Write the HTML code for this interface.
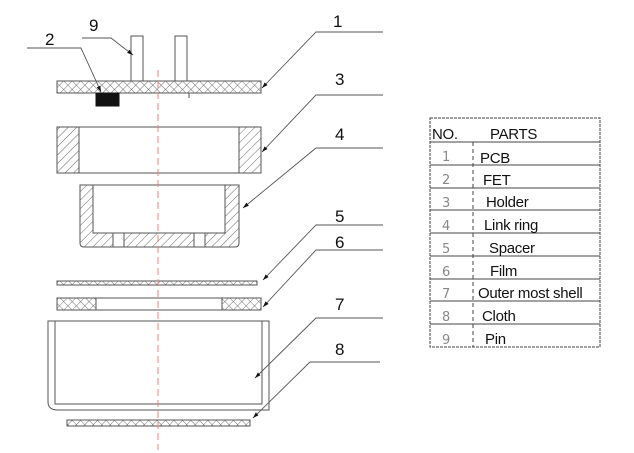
<!DOCTYPE html>
<html><head><style>body{margin:0;background:#fff}svg{display:block}</style></head><body>
<svg width="634" height="453" viewBox="0 0 634 453" xmlns="http://www.w3.org/2000/svg" font-family="Liberation Sans, sans-serif">
<defs>
<pattern id="h" width="6" height="6" patternUnits="userSpaceOnUse" patternTransform="rotate(45)"><line x1="0" y1="0" x2="0" y2="6" stroke="#555" stroke-width="0.9"/></pattern>
<pattern id="x" width="6" height="6" patternUnits="userSpaceOnUse" patternTransform="rotate(45)"><line x1="0" y1="0" x2="0" y2="6" stroke="#555" stroke-width="0.8"/><line x1="0" y1="0" x2="6" y2="0" stroke="#555" stroke-width="0.8"/></pattern>
<marker id="a" markerWidth="6" markerHeight="4" refX="6" refY="2" orient="auto" markerUnits="userSpaceOnUse"><path d="M0 0 L6 2 L0 4 Z" fill="#111"/></marker>
</defs>
<g stroke="#555" stroke-width="1" fill="none">
<rect x="131" y="36" width="12" height="45" fill="#fff"/>
<rect x="175" y="36" width="12" height="45" fill="#fff"/>
<rect x="57" y="81" width="204" height="12" fill="url(#x)"/>
<line x1="189" y1="93" x2="189" y2="98"/>
<rect x="96" y="93" width="23" height="13" fill="#111" stroke="#111"/>
<rect x="57" y="127" width="204" height="46" fill="#fff"/>
<rect x="57" y="127" width="22" height="46" fill="url(#h)"/>
<rect x="239" y="127" width="22" height="46" fill="url(#h)"/>
<path d="M80 185 H239 V243 Q239 247 235 247 H84 Q80 247 80 243 Z" fill="url(#h)"/>
<rect x="93" y="185" width="132" height="48" fill="#fff"/>
<rect x="113" y="233" width="11" height="14" fill="#fff"/>
<rect x="194" y="233" width="11" height="14" fill="#fff"/>
<rect x="57" y="281" width="200" height="4" fill="url(#x)"/>
<rect x="57" y="298" width="204" height="12" fill="#fff"/>
<rect x="57" y="298" width="39" height="12" fill="url(#x)"/>
<rect x="222" y="298" width="39" height="12" fill="url(#x)"/>
<path d="M48 321 V402 Q48 410 58 410 H269 V321 Z"/>
<path d="M55 321 V404 H262 V321"/>
<line x1="48" y1="321" x2="55" y2="321"/><line x1="262" y1="321" x2="269" y2="321"/>
<rect x="67" y="420" width="183" height="6" fill="url(#x)"/>
</g>
<line x1="158" y1="70" x2="158" y2="450" stroke="#f08080" stroke-width="1" stroke-dasharray="7,4"/>
<g stroke="#555" stroke-width="0.9" fill="none" marker-end="url(#a)">
<polyline points="82,38 111,38 133,55"/>
<polyline points="27,48 81,48 101,92"/>
<polyline points="383,32 316,32 262,88"/>
<polyline points="383,95 316,95 262,152"/>
<polyline points="383,148 316,148 243,208"/>
<polyline points="383,225 316,225 263,280"/>
<polyline points="383,250 316,250 263,307"/>
<polyline points="383,318 316,318 255,378"/>
<polyline points="380,362 310,362 253,418"/>
</g>
<g font-size="17" fill="#111">
<text x="89" y="31">9</text><text x="45" y="45">2</text>
<text x="333" y="27">1</text><text x="335" y="85">3</text><text x="335" y="140">4</text>
<text x="335" y="222">5</text><text x="335" y="248">6</text><text x="335" y="310">7</text><text x="335" y="355">8</text>
</g>
<g stroke="#444" stroke-width="1" fill="none">
<rect x="430" y="118" width="170" height="229" stroke-dasharray="3,1"/>
<line x1="430" y1="142" x2="600" y2="142"/>
<line x1="473" y1="142" x2="473" y2="347" stroke-dasharray="4,3"/>
<line x1="430" y1="165" x2="600" y2="165"/><line x1="430" y1="188" x2="600" y2="188"/>
<line x1="430" y1="210" x2="600" y2="210"/><line x1="430" y1="233" x2="600" y2="233"/>
<line x1="430" y1="256" x2="600" y2="256"/><line x1="430" y1="279" x2="600" y2="279"/>
<line x1="430" y1="301" x2="600" y2="301"/><line x1="430" y1="324" x2="600" y2="324"/>
</g>
<g font-size="15" fill="#111" letter-spacing="-0.3">
<text x="432" y="139">NO.</text><text x="490" y="139">PARTS</text>
<text x="480" y="163">PCB</text><text x="483" y="185">FET</text><text x="486" y="207">Holder</text>
<text x="484" y="230">Link ring</text><text x="489" y="253">Spacer</text><text x="490" y="276">Film</text>
<text x="478" y="298">Outer most shell</text><text x="482" y="321">Cloth</text><text x="485" y="344">Pin</text>
</g>
<g font-size="13" fill="#888" font-family="DejaVu Sans, sans-serif">
<text x="442" y="161">1</text><text x="442" y="184">2</text><text x="442" y="207">3</text>
<text x="442" y="230">4</text><text x="442" y="253">5</text><text x="442" y="276">6</text>
<text x="442" y="298">7</text><text x="442" y="321">8</text><text x="442" y="344">9</text>
</g>
</svg>
</body></html>
